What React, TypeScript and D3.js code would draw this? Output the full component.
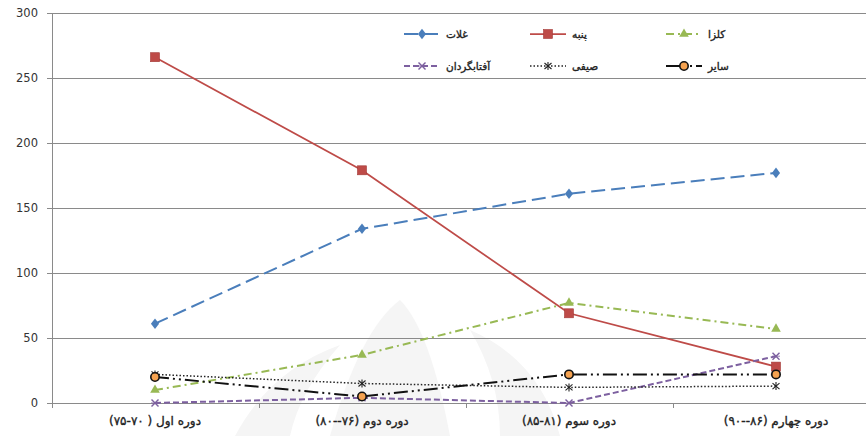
import React from 'react';
import * as d3 from 'd3';

const categories = [
  'دوره اول ( ۷۰\u200F-۷۵)',
  'دوره دوم (۷۶\u200F--۸۰)',
  'دوره سوم (۸۱\u200F-۸۵)',
  'دوره چهارم (۸۶\u200F--۹۰)',
];
const yTicks = [0, 50, 100, 150, 200, 250, 300];

const ghallat = [61, 134, 161, 177];
const panbeh = [266, 179, 69, 28];
const kolza = [10, 37, 77, 57];
const aftabgardan = [0, 4, 0, 36];
const seyfi = [22, 15, 12, 13];
const sayer = [20, 5, 22, 22];

type Marker = 'diamond' | 'square' | 'triangle' | 'x' | 'star' | 'circle';
interface Series {
  name: string;
  values: number[];
  color: string;
  dash: string;
  width: number;
  marker: Marker;
}

const series: Series[] = [
  { name: 'غلات', values: ghallat, color: '#4a7ebb', dash: '14,6', width: 2, marker: 'diamond' },
  { name: 'پنبه', values: panbeh, color: '#be4b48', dash: '', width: 1.75, marker: 'square' },
  { name: 'کلزا', values: kolza, color: '#98b954', dash: '8,4,2,4', width: 2, marker: 'triangle' },
  { name: 'آفتابگردان', values: aftabgardan, color: '#7d60a0', dash: '6,3', width: 2, marker: 'x' },
  { name: 'صیفی', values: seyfi, color: '#222', dash: '1.5,2', width: 1.5, marker: 'star' },
  { name: 'سایر', values: sayer, color: '#111', dash: '14,4,2,4,2,4', width: 2, marker: 'circle' },
];

const W = 866;
const H = 436;

const x = d3.scalePoint<string>().domain(categories).range([51.5, 879.5]).padding(0.5);
const y = d3.scaleLinear().domain([0, 300]).range([403, 13]);

function MarkerShape({ m, cx, cy, color }: { m: Marker; cx: number; cy: number; color: string }) {
  if (m === 'diamond') {
    const s = d3.symbol().type(d3.symbolDiamond).size(40)();
    return <path d={s || ''} transform={`translate(${cx},${cy}) scale(1.2,0.9)`} fill={color} />;
  }
  if (m === 'square') return <rect x={cx - 4.5} y={cy - 4.5} width={9} height={9} fill={color} stroke="#a33b38" strokeWidth={0.6} />;
  if (m === 'triangle') {
    const s = d3.symbol().type(d3.symbolTriangle).size(40)();
    return <path d={s || ''} transform={`translate(${cx},${cy})`} fill={color} />;
  }
  if (m === 'x') {
    return (
      <g stroke={color} strokeWidth={1.4}>
        <line x1={cx - 3.5} y1={cy - 3.5} x2={cx + 3.5} y2={cy + 3.5} />
        <line x1={cx - 3.5} y1={cy + 3.5} x2={cx + 3.5} y2={cy - 3.5} />
        <line x1={cx - 4} y1={cy} x2={cx + 4} y2={cy} strokeWidth={0.8} />
      </g>
    );
  }
  if (m === 'star') {
    return (
      <g stroke={color} strokeWidth={1.1}>
        <line x1={cx - 3.5} y1={cy - 3} x2={cx + 3.5} y2={cy + 3} />
        <line x1={cx - 3.5} y1={cy + 3} x2={cx + 3.5} y2={cy - 3} />
        <line x1={cx} y1={cy - 4} x2={cx} y2={cy + 4} />
      </g>
    );
  }
  return <circle cx={cx} cy={cy} r={4.2} fill="#f5a250" stroke="#111" strokeWidth={1.6} />;
}

const line = d3
  .line<number>()
  .x((_, i) => x(categories[i]) as number)
  .y((d) => y(d));

const legendCols = [404, 530, 666];
const legendRows = [34, 66];

const labelFont = {
  fontFamily: 'DejaVu Sans, sans-serif',
  fill: '#222',
  stroke: '#222',
  strokeWidth: 0.35,
};

export default function App() {
  return (
    <div style={{ position: 'fixed', left: 0, top: 0 }}>
      <svg width={W} height={H} style={{ display: 'block', background: '#fff' }}>
        {/* faint watermark */}
        <g fill="#f5f5f5">
          <path d="M330,436 Q360,330 400,300 Q430,330 450,436 Z" />
          <path d="M235,436 Q270,370 340,345 Q300,390 290,436 Z" />
          <path d="M560,436 Q540,360 470,330 Q500,380 500,436 Z" />
        </g>

        {/* gridlines */}
        {yTicks.map((t) => (
          <g key={t}>
            <line x1={52} x2={W} y1={y(t) + 0.5} y2={y(t) + 0.5} stroke="#8a8a8a" strokeWidth={1} />
            <line x1={47} x2={52} y1={y(t) + 0.5} y2={y(t) + 0.5} stroke="#8a8a8a" strokeWidth={1} />
            <text
              x={38}
              y={y(t)}
              dy="0.35em"
              textAnchor="end"
              fontFamily="DejaVu Sans, Verdana, sans-serif"
              fontSize={11.5}
              fill="#333"
            >
              {t}
            </text>
          </g>
        ))}
        <line x1={52.5} x2={52.5} y1={y(300)} y2={y(0) + 5} stroke="#8a8a8a" strokeWidth={1} />
        {categories.slice(1).map((c) => {
          const xx = Math.round((x(c) as number) - x.step() / 2) + 0.5;
          return <line key={c} x1={xx} x2={xx} y1={y(0)} y2={y(0) + 5} stroke="#8a8a8a" strokeWidth={1} />;
        })}

        {/* x labels */}
        {categories.map((c) => (
          <text key={c} x={x(c)} y={425} textAnchor="middle" direction="rtl" fontSize={12} {...labelFont}>
            {c}
          </text>
        ))}

        {/* series */}
        {series.map((s) => (
          <g key={s.name}>
            <path
              d={line(s.values) || ''}
              fill="none"
              stroke={s.color}
              strokeWidth={s.width}
              strokeDasharray={s.dash || undefined}
            />
            {s.values.map((v, i) => (
              <MarkerShape key={i} m={s.marker} cx={x(categories[i]) as number} cy={y(v)} color={s.color} />
            ))}
          </g>
        ))}

        {/* legend */}
        {series.map((s, i) => {
          const lx = legendCols[i % 3];
          const ly = legendRows[Math.floor(i / 3)];
          return (
            <g key={s.name}>
              <line
                x1={lx}
                x2={lx + 36}
                y1={ly}
                y2={ly}
                stroke={s.color}
                strokeWidth={s.width}
                strokeDasharray={s.dash || undefined}
              />
              <MarkerShape m={s.marker} cx={lx + 18} cy={ly} color={s.color} />
              <text x={lx + 42} y={ly} dy="0.35em" textAnchor="start" fontSize={10.5} {...labelFont}>
                {s.name}
              </text>
            </g>
          );
        })}
      </svg>
    </div>
  );
}
